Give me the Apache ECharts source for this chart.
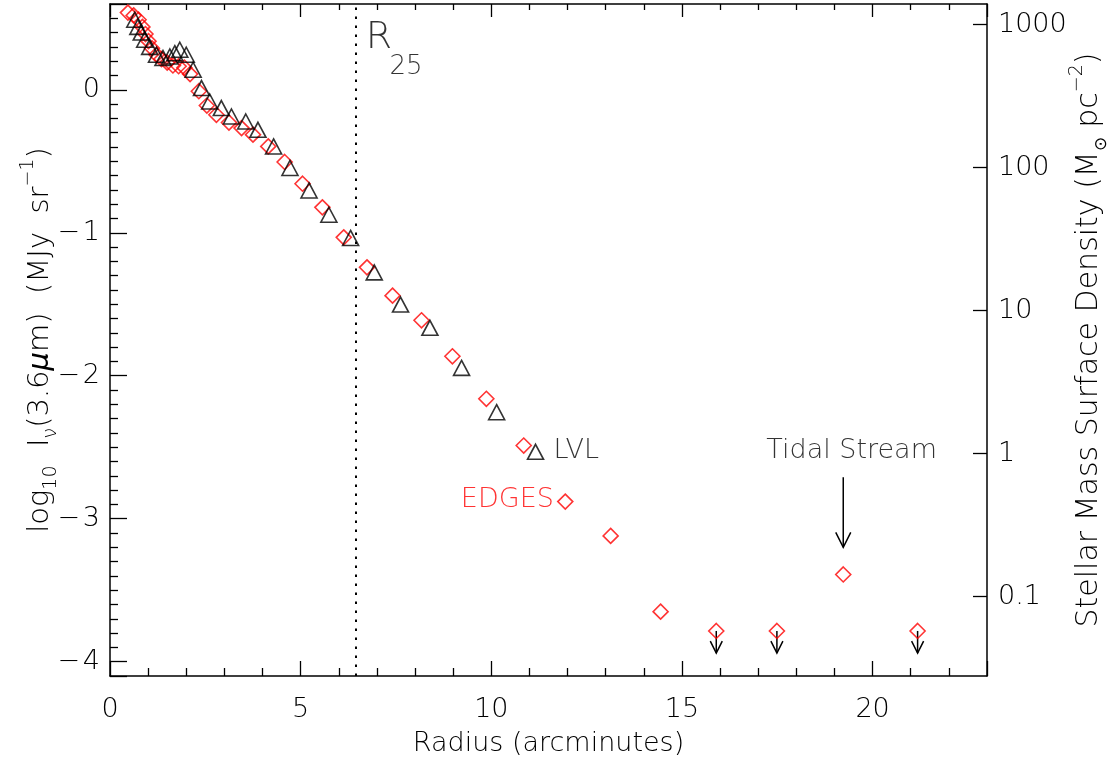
<!DOCTYPE html>
<html>
<head>
<meta charset="utf-8">
<title>Radial profile</title>
<script src="https://cdn.jsdelivr.net/npm/echarts@6/dist/echarts.min.js"></script>
<style>
html, body {margin:0; padding:0; background:#fff;}
#chart {width:1112px; height:761px;}
</style>
</head>
<body>
<div id="chart"></div>
<script>
// EDGES profile (red diamonds): radius (arcmin), log10 I
var edgesR = [0.47, 0.62, 0.75, 0.85, 0.93, 1.01, 1.10, 1.22, 1.35, 1.50, 1.65, 1.80, 1.95, 2.10, 2.33, 2.54, 2.79, 3.12, 3.45, 3.75, 4.15, 4.58, 5.05, 5.57, 6.13, 6.74, 7.41, 8.17, 8.98, 9.87, 10.85, 11.94, 13.13, 14.44, 15.90, 17.49, 19.23, 21.18];
var edgesLogI = [0.54, 0.52, 0.49, 0.44, 0.39, 0.34, 0.29, 0.245, 0.215, 0.19, 0.17, 0.165, 0.155, 0.11, -0.01, -0.11, -0.175, -0.229, -0.268, -0.314, -0.396, -0.505, -0.657, -0.822, -1.032, -1.242, -1.44, -1.612, -1.864, -2.161, -2.488, -2.88, -3.12, -3.65, -3.785, -3.785, -3.39, -3.785];

// LVL profile (black triangles)
var lvlR = [0.65, 0.73, 0.82, 0.91, 1.04, 1.22, 1.39, 1.57, 1.70, 1.83, 2.00, 2.18, 2.40, 2.615, 2.92, 3.185, 3.56, 3.88, 4.29, 4.72, 5.22, 5.74, 6.31, 6.93, 7.62, 8.39, 9.22, 10.14, 11.16];
var lvlLogI = [0.49, 0.44, 0.40, 0.35, 0.30, 0.245, 0.222, 0.233, 0.256, 0.28, 0.245, 0.14, 0.012, -0.082, -0.128, -0.187, -0.222, -0.28, -0.396, -0.547, -0.704, -0.874, -1.036, -1.277, -1.502, -1.665, -1.945, -2.255, -2.532];

// upper limits (arrow from point down to tip)
var limitR = [15.90, 17.49, 21.18];
var limitLogI = [-3.785, -3.785, -3.785];
var limitTipLogI = [-3.94, -3.94, -3.94];

// tidal stream arrow
var tidalR = [19.23];
var tidalFrom = [-2.71];
var tidalTo = [-3.20];

var r25 = 6.45;
var sigmaOffset = 2.545; // log10 Sigma - log10 I

var xMin = 0, xMax = 23;
var yMin = -4.1, yMax = 0.6;

var FONT = 'DejaVu Sans';
var FW = 200;
var FS = 27;

function pairs(xs, ys) {
    var out = [];
    for (var i = 0; i < xs.length; i++) out.push([xs[i], ys[i]]);
    return out;
}
function triples(xs, a, b) {
    var out = [];
    for (var i = 0; i < xs.length; i++) out.push([xs[i], a[i], b[i]]);
    return out;
}
function isWhole(v) {
    return Math.abs(v - Math.round(v)) < 1e-6;
}

function arrowRenderer(halfWidth, headLength) {
    return function (params, api) {
        var top = api.coord([api.value(0), api.value(1)]);
        var tip = api.coord([api.value(0), api.value(2)]);
        var st = {stroke: '#000', lineWidth: 1.5, fill: null};
        return {
            type: 'group',
            children: [
                {type: 'line', shape: {x1: top[0], y1: top[1], x2: tip[0], y2: tip[1]}, style: st},
                {type: 'polyline', shape: {points: [[tip[0] - halfWidth, tip[1] - headLength], [tip[0], tip[1]], [tip[0] + halfWidth, tip[1] - headLength]]}, style: st}
            ]
        };
    };
}

function note(pos, text, align, color, size) {
    return {
        value: pos,
        label: {
            show: true, position: 'inside', formatter: text, align: align, verticalAlign: 'middle',
            fontFamily: FONT, fontWeight: FW, fontSize: size || FS, color: color || '#000'
        }
    };
}

var axisLine = {show: true, onZero: false, lineStyle: {color: '#000', width: 1.5}};
var labelStyle = {fontFamily: FONT, fontWeight: FW, fontSize: FS, color: '#000'};

var chart = echarts.init(document.getElementById('chart'));

var option = {
    animation: false,
    backgroundColor: '#fff',
    grid: {left: 110, right: 125, top: 4, bottom: 85, containLabel: false, outerBoundsMode: 'none'},
    xAxis: [
        {
            type: 'value', position: 'bottom', min: xMin, max: xMax, interval: 5,
            axisLine: axisLine,
            axisTick: {show: true, inside: true, length: 15, lineStyle: {color: '#000', width: 1.3}},
            minorTick: {show: true, splitNumber: 5, length: 8, lineStyle: {color: '#000', width: 1.3}},
            axisLabel: Object.assign({margin: 20, showMaxLabel: false}, labelStyle),
            splitLine: {show: false},
            name: 'Radius (arcminutes)', nameLocation: 'middle', nameGap: 54, nameMoveOverlap: false,
            nameTextStyle: labelStyle
        },
        {
            type: 'value', position: 'top', min: xMin, max: xMax, interval: 5,
            axisLine: axisLine,
            axisTick: {show: true, inside: true, length: 13, lineStyle: {color: '#000', width: 1.3}},
            minorTick: {show: true, splitNumber: 5, length: 6, lineStyle: {color: '#000', width: 1.3}},
            axisLabel: {show: false},
            splitLine: {show: false}
        }
    ],
    yAxis: [
        {
            type: 'value', position: 'left', min: yMin, max: yMax, splitNumber: 5,
            axisLine: axisLine,
            axisTick: {show: true, inside: true, length: 17, lineStyle: {color: '#000', width: 1.3}},
            minorTick: {show: true, splitNumber: 10, length: 8, lineStyle: {color: '#000', width: 1.3}},
            axisLabel: Object.assign({
                margin: 10, showMinLabel: false, showMaxLabel: false,
                formatter: function (v) {
                    if (!isWhole(v)) return '';
                    var n = Math.round(v);
                    return n < 0 ? '\u2212\u200a' + (-n) : String(n);
                }
            }, labelStyle),
            splitLine: {show: false},
            name: '{n|log}{s|10}{n|  I}{s|\u03bd}{n|(3.6}{g|\u03bc}{n|m)  (MJy  sr}{p|\u22121}{n|)}',
            nameLocation: 'middle', nameRotate: 90, nameGap: 49, nameMoveOverlap: false,
            nameTextStyle: {
                fontFamily: FONT, fontWeight: FW, fontSize: 29, color: '#000',
                rich: {
                    n: {fontFamily: FONT, fontWeight: FW, fontSize: 29, lineHeight: 42, color: '#000'},
                    s: {fontFamily: FONT, fontWeight: FW, fontSize: 19, lineHeight: 20, verticalAlign: 'bottom', color: '#000'},
                    g: {fontFamily: FONT, fontWeight: 'normal', fontStyle: 'italic', fontSize: 29, lineHeight: 42, color: '#000'},
                    p: {fontFamily: FONT, fontWeight: FW, fontSize: 19, lineHeight: 20, verticalAlign: 'top', color: '#000'}
                }
            }
        },
        {
            type: 'value', position: 'right', min: yMin + sigmaOffset, max: yMax + sigmaOffset, splitNumber: 5,
            axisLine: axisLine,
            axisTick: {show: true, inside: true, length: 14, lineStyle: {color: '#000', width: 1.3}},
            axisLabel: Object.assign({
                margin: 11, showMinLabel: false, showMaxLabel: false,
                formatter: function (v) {
                    if (!isWhole(v)) return '';
                    return String(Math.pow(10, Math.round(v)));
                }
            }, labelStyle),
            splitLine: {show: false},
            name: '{n|Stellar Mass Surface Density (M}{s|\u2299}{n| pc}{p|\u22122}{n|)}',
            nameLocation: 'middle', nameRotate: 90, nameGap: 81, nameMoveOverlap: false,
            nameTextStyle: {
                fontFamily: FONT, fontWeight: FW, fontSize: 30, color: '#000',
                rich: {
                    n: {fontFamily: FONT, fontWeight: FW, fontSize: 30, lineHeight: 42, color: '#000'},
                    s: {fontFamily: FONT, fontWeight: FW, fontSize: 17, lineHeight: 20, verticalAlign: 'bottom', color: '#000'},
                    p: {fontFamily: FONT, fontWeight: FW, fontSize: 19, lineHeight: 20, verticalAlign: 'top', color: '#000'}
                }
            }
        }
    ],
    series: [
        {
            name: 'EDGES', type: 'scatter', xAxisIndex: 0, yAxisIndex: 0,
            symbol: 'diamond', symbolSize: 15,
            itemStyle: {color: 'rgba(0,0,0,0)', borderColor: '#ff0000', borderWidth: 1.6},
            emphasis: {disabled: true},
            data: pairs(edgesR, edgesLogI),
            markLine: {
                silent: true, symbol: ['none', 'none'], label: {show: false},
                lineStyle: {color: '#000', type: [2.5, 6.5], width: 2},
                data: [{xAxis: r25}]
            }
        },
        {
            name: 'LVL', type: 'scatter', xAxisIndex: 0, yAxisIndex: 0,
            symbol: 'triangle', symbolSize: [16, 15],
            itemStyle: {color: 'rgba(0,0,0,0)', borderColor: '#000', borderWidth: 1.6},
            emphasis: {disabled: true},
            data: pairs(lvlR, lvlLogI)
        },
        {
            name: 'limits', type: 'custom', xAxisIndex: 0, yAxisIndex: 0, silent: true,
            renderItem: arrowRenderer(6, 12),
            data: triples(limitR, limitLogI, limitTipLogI)
        },
        {
            name: 'tidal', type: 'custom', xAxisIndex: 0, yAxisIndex: 0, silent: true,
            renderItem: arrowRenderer(7.5, 15),
            data: triples(tidalR, tidalFrom, tidalTo)
        },
        {
            name: 'notes', type: 'scatter', xAxisIndex: 0, yAxisIndex: 0, silent: true,
            symbolSize: 1, itemStyle: {color: 'rgba(0,0,0,0)'},
            data: [
                note([11.63, -2.525], 'LVL', 'left'),
                note([11.64, -2.869], 'EDGES', 'right', '#ff0000'),
                note([19.45, -2.525], 'Tidal Stream', 'center'),
                note([6.71, 0.36], 'R', 'left', '#000', 38),
                note([7.33, 0.16], '25', 'left', '#000', 26)
            ]
        }
    ]
};

chart.setOption(option);
</script>
</body>
</html>
